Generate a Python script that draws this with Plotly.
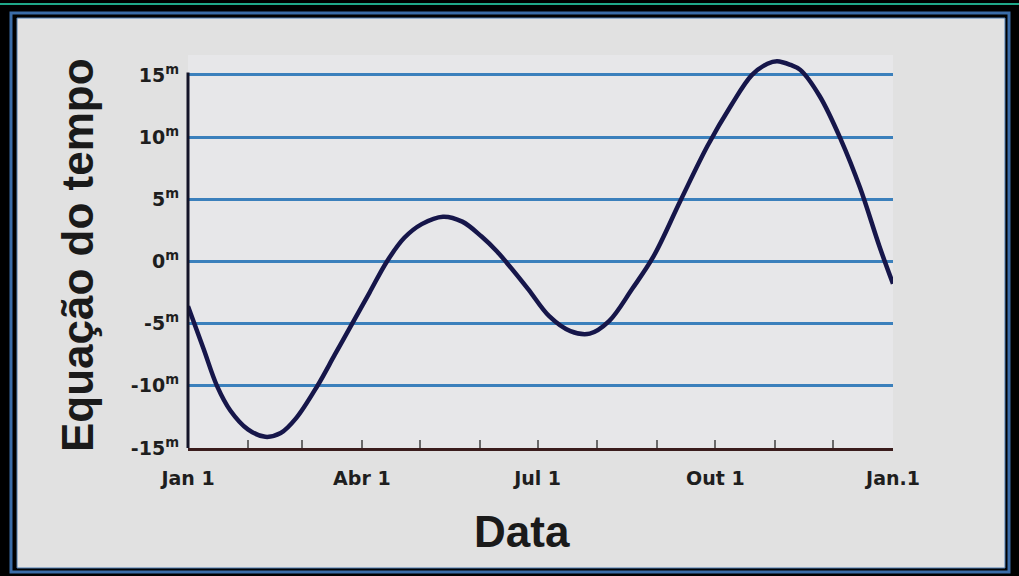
import plotly.graph_objects as go

# ---- data (day of year, minutes) ----
days = [0, 8, 15, 22, 31, 40, 48, 56, 67, 76, 85, 94, 103, 112, 121, 132, 142,
        152, 160, 165, 176, 187, 198, 208, 218, 230, 241, 255, 269, 281, 292,
        300, 305, 312, 317, 327, 338, 348, 358, 365]
eot = [-3.6, -7.0, -10.0, -12.0, -13.5, -14.1, -13.8, -12.6, -10.0, -7.5, -5.0,
       -2.5, 0.0, 1.9, 3.0, 3.6, 3.2, 2.0, 0.8, -0.1, -2.2, -4.4, -5.6, -5.8,
       -4.8, -2.2, 0.4, 4.9, 9.3, 12.5, 15.0, 15.9, 16.1, 15.8, 15.4, 13.3, 9.8,
       5.9, 1.2, -1.8]

month_starts = [0, 31, 59, 90, 120, 151, 181, 212, 243, 273, 304, 334, 365]
month_labels = ["Jan 1", "", "", "Abr 1", "", "", "Jul 1", "", "", "Out 1", "", "", "Jan.1"]
y_ticks = [-15, -10, -5, 0, 5, 10, 15]
y_labels = ["-15<sup>m</sup>", "-10<sup>m</sup>", "-5<sup>m</sup>", "0<sup>m</sup>",
            "5<sup>m</sup>", "10<sup>m</sup>", "15<sup>m</sup>"]

W, H = 1019, 576
L, R, T, B = 188, 126, 50, 128
PW, PH = W - L - R, H - T - B


def px(x):
    return (x - L) / PW


def py(y):
    return (H - B - y) / PH


fig = go.Figure()
fig.add_trace(go.Scatter(
    x=days, y=eot, mode="lines",
    line=dict(color="#16164a", width=4.5, shape="spline", smoothing=1.0),
    hoverinfo="skip", showlegend=False))

shapes = [
    dict(type="line", xref="paper", yref="paper", x0=px(0), x1=px(W), y0=py(4), y1=py(4),
         line=dict(color="#1fa889", width=2), layer="below"),
    dict(type="rect", xref="paper", yref="paper", x0=px(11), x1=px(1009), y0=py(13), y1=py(572),
         line=dict(color="#3a6ca8", width=3), fillcolor="rgba(0,0,0,0)", layer="below"),
    dict(type="rect", xref="paper", yref="paper", x0=px(17), x1=px(1005), y0=py(18), y1=py(568),
         line=dict(color="#4d7db3", width=1), fillcolor="#e1e1e1", layer="below"),
    dict(type="rect", xref="paper", yref="paper", x0=0, x1=1, y0=0, y1=py(55),
         line=dict(width=0), fillcolor="#e7e7e9", layer="below"),
    dict(type="line", xref="paper", yref="y", x0=0, x1=0, y0=-15, y1=15.2,
         line=dict(color="#141428", width=3)),
]

tick_font = dict(family="DejaVu Sans", size=19, color="#1e1e1e", weight="bold")
title_font = dict(family="Liberation Sans", size=44, color="#1a1a1a", weight="bold")

fig.update_layout(
    width=W, height=H,
    margin=dict(l=L, r=R, t=T, b=B, pad=0),
    paper_bgcolor="#000000",
    plot_bgcolor="rgba(0,0,0,0)",
    shapes=shapes,
    xaxis=dict(range=[0, 365], tickmode="array", tickvals=month_starts, ticktext=month_labels,
               ticks="inside", ticklen=8, tickwidth=2, tickcolor="#6a6a6a",
               showgrid=False, zeroline=False, showline=True, linecolor="#3a1c1c", linewidth=3,
               tickfont=tick_font, ticklabelstandoff=11),
    yaxis=dict(range=[-15, 17], tickmode="array", tickvals=y_ticks, ticktext=y_labels,
               ticks="", showgrid=True, gridcolor="#3b80bc", gridwidth=3,
               zeroline=False, showline=False,
               tickfont=tick_font, ticklabelstandoff=8),
    annotations=[
        dict(text="Data", xref="paper", yref="paper", x=px(522), y=py(531), showarrow=False,
             font=title_font, xanchor="center", yanchor="middle"),
        dict(text="Equação do tempo", xref="paper", yref="paper", x=px(78), y=py(255),
             showarrow=False, textangle=-90, font=title_font,
             xanchor="center", yanchor="middle"),
    ],
)

fig.write_html("out.html", config={"displayModeBar": False},
               post_script="document.body.style.margin='0';")
